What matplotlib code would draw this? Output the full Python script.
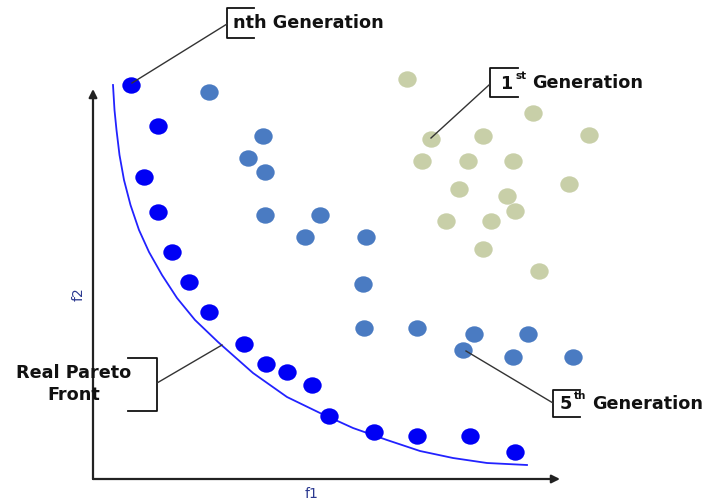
import numpy as np
import matplotlib
matplotlib.use("Agg")
import matplotlib.pyplot as plt
from matplotlib.path import Path
from matplotlib.transforms import Affine2D

# f1 / f2 values, measured from the axes origin (in pixels of the source image)
nth_f1 = [38, 65, 51, 65, 79, 96, 116, 151, 173, 194, 219, 236, 281, 324, 377, 422]
nth_f2 = [394, 353, 302, 267, 227, 197, 167, 135, 115, 107, 94, 63, 47, 43, 43, 27]

fifth_f1 = [116, 170, 155, 172, 172, 227, 212, 273, 270, 271, 324, 381, 435, 370, 420, 480]
fifth_f2 = [387, 343, 321, 307, 264, 264, 242, 242, 195, 151, 151, 145, 145, 129, 122, 122]

first_f1 = [314, 440, 338, 390, 496, 329, 375, 420, 366, 476, 414, 422, 353, 398, 390, 446]
first_f2 = [400, 366, 340, 343, 344, 318, 318, 318, 290, 295, 283, 268, 258, 258, 230, 208]

front_f1 = [20, 21.5, 23.5, 26.5, 31, 37.5, 46, 56, 69, 84, 102, 125, 160, 194, 227, 260, 294, 327, 360, 394, 434]
front_f2 = [394, 369, 349, 324, 299, 274, 249, 227, 204, 181, 159, 137, 106, 82, 66, 51, 39, 28, 21, 16, 14]

FONT = "DejaVu Sans"


def P(x, y):
    # image pixel -> axes data position
    return (x - 93, 479 - y)


fig = plt.figure(figsize=(7.11, 5.04), dpi=100)
ax = fig.add_axes([0, 0, 1, 1])
ax.set_xlim(-93, 618)
ax.set_ylim(-25, 479)
ax.axis("off")

# slightly wide dots
dot = Path.unit_circle().transformed(Affine2D().scale(1.12, 1.0))

ax.plot(front_f1, front_f2, color="#2222ff", lw=1.3, zorder=2)
ax.scatter(first_f1, first_f2, s=175, marker=dot, color="#c8cfa8", lw=0, zorder=3)
ax.scatter(fifth_f1, fifth_f2, s=175, marker=dot, color="#4a7bc2", lw=0, zorder=3)
ax.scatter(nth_f1, nth_f2, s=175, marker=dot, color="#0000f5", lw=0, zorder=3)

# axes with arrows
arr = dict(arrowstyle="-|>", mutation_scale=12, lw=1.6, color="#222222",
           shrinkA=0, shrinkB=0)
ax.annotate("", xy=P(93, 89), xytext=P(93, 479), arrowprops=arr)
ax.annotate("", xy=P(560, 479), xytext=P(93, 479), arrowprops=arr)

lab = "#2b3990"
ax.text(*P(312, 494), "f1", color=lab, fontsize=10, ha="center", va="center", family=FONT)
ax.text(*P(79, 294), "f2", color=lab, fontsize=10, ha="center", va="center",
        rotation=90, family=FONT)


def bracket(x0, x1, y0, y1, side="left"):
    if side == "left":
        xs = [x1, x0, x0, x1]
    else:
        xs = [x0, x1, x1, x0]
    pts = [P(xs[0], y0), P(xs[1], y0), P(xs[2], y1), P(xs[3], y1)]
    ax.plot([p[0] for p in pts], [p[1] for p in pts], color="#111111", lw=1.3, zorder=4)


def leader(a, b):
    pa, pb = P(*a), P(*b)
    ax.plot([pa[0], pb[0]], [pa[1], pb[1]], color="#333333", lw=1.0, zorder=4)


tk = dict(family=FONT, fontweight="bold", color="#111111", va="center")

# nth Generation
bracket(227, 254, 8, 38)
ax.text(*P(233, 23), "nth Generation", fontsize=12.7, **tk)
leader((227, 24), (132, 83))

# 1st Generation
bracket(490, 518, 68, 97)
ax.text(*P(500, 84), "1", fontsize=12.7, **tk)
ax.text(*P(516, 76), "st", fontsize=7.5, **tk)
ax.text(*P(532, 83), "Generation", fontsize=12.7, **tk)
leader((489, 85), (431, 138))

# 5th Generation
bracket(553, 580, 390, 417)
ax.text(*P(560, 404), "5", fontsize=12.7, **tk)
ax.text(*P(574, 396), "th", fontsize=7.5, **tk)
ax.text(*P(592, 404), "Generation", fontsize=12.7, **tk)
leader((553, 403), (466, 351))

# Real Pareto Front
bracket(128, 157, 358, 411, side="right")
ax.text(*P(74, 384), "Real Pareto\nFront", fontsize=12.7, ha="center",
        linespacing=1.25, **tk)
leader((157, 383), (222, 345))

fig.savefig("out.png", dpi=100)
